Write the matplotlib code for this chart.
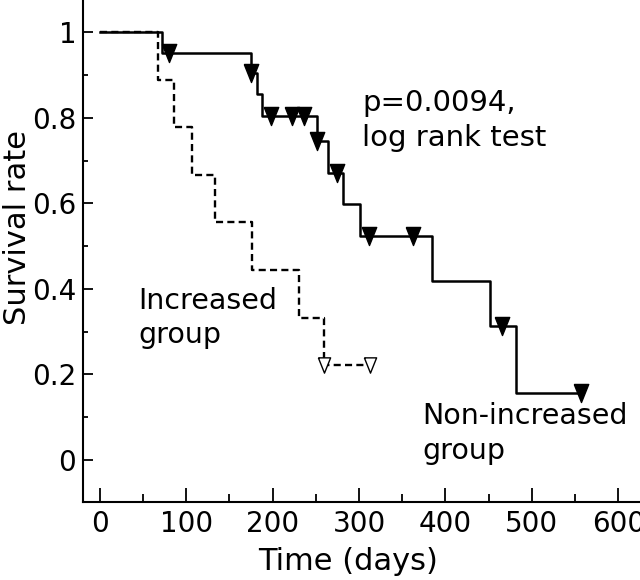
import numpy as np
import matplotlib
matplotlib.use("Agg")
import matplotlib.pyplot as plt

# Kaplan-Meier curves (step starts + end point)
non_inc_days = [0, 72, 175, 182, 188, 251, 264, 282, 301, 384, 451, 482, 557]
non_inc_surv = [1.0, 0.952, 0.905, 0.855, 0.805, 0.745, 0.672, 0.598, 0.523,
                0.418, 0.314, 0.157, 0.157]
non_inc_censored = [80, 175, 198, 223, 236, 251, 274, 311, 362, 465, 557]

inc_days = [0, 67, 86, 107, 133, 176, 231, 260, 313]
inc_surv = [1.0, 0.889, 0.778, 0.667, 0.556, 0.444, 0.333, 0.222, 0.222]
inc_censored = [260, 313]

x_ticks = [0, 100, 200, 300, 400, 500, 600]
y_ticks = [0, 0.2, 0.4, 0.6, 0.8, 1.0]
y_tick_labels = ["0", "0.2", "0.4", "0.6", "0.8", "1"]


def surv_at(days, surv, t):
    i = np.searchsorted(days, t, side="right") - 1
    return np.asarray(surv)[i]


# tall down-pointing triangle
tri = [(-0.8, 1.0), (0.8, 1.0), (0.0, -1.0), (-0.8, 1.0)]

plt.rcParams["font.family"] = ["DejaVu Sans"]
fig = plt.figure(figsize=(6.4, 5.8), dpi=100)
ax = fig.add_axes([0.13, 0.135, 0.87, 0.865])

ax.step(non_inc_days, non_inc_surv, where="post", color="black", lw=1.8)
ax.step(inc_days, inc_surv, where="post", color="black", lw=1.7,
        linestyle=(0, (3, 1.8)))

ax.plot(non_inc_censored, surv_at(non_inc_days, non_inc_surv, non_inc_censored),
        linestyle="none", marker=tri, markersize=13, color="black", zorder=3)
ax.plot(inc_censored, surv_at(inc_days, inc_surv, inc_censored),
        linestyle="none", marker=tri, markersize=11, markerfacecolor="white",
        markeredgecolor="black", markeredgewidth=1.0, zorder=3)

ax.text(304, 0.867, "p=0.0094,\nlog rank test", ha="left", va="top",
        fontsize=21, linespacing=1.3)
ax.text(45, 0.405, "Increased\ngroup", ha="left", va="top",
        fontsize=20.5, linespacing=1.3)
ax.text(373, 0.135, "Non-increased\ngroup", ha="left", va="top",
        fontsize=20.5, linespacing=1.3)

ax.set_xlim(-19, 625)
ax.set_ylim(-0.098, 1.076)
ax.set_xticks(x_ticks)
ax.set_xticks(np.arange(50, 601, 100), minor=True)
ax.set_yticks(y_ticks)
ax.set_yticklabels(y_tick_labels)
ax.set_yticks(np.arange(0.1, 1.0, 0.2), minor=True)

for s in ["top", "right"]:
    ax.spines[s].set_visible(False)
for s in ["left", "bottom"]:
    ax.spines[s].set_linewidth(1.5)

ax.tick_params(axis="x", which="major", direction="in", length=10, width=1.3,
               labelsize=20, pad=6)
ax.tick_params(axis="x", which="minor", direction="in", length=6, width=1.3)
ax.tick_params(axis="y", which="major", direction="in", length=7, width=1.3,
               labelsize=20, pad=5)
ax.tick_params(axis="y", which="minor", direction="in", length=3.6, width=1.3)

ax.set_xlabel("Time (days)", fontsize=22)
ax.set_ylabel("Survival rate", fontsize=22)
ax.xaxis.set_label_coords(0.476, -0.09)
ax.yaxis.set_label_coords(-0.092, 0.546)

fig.savefig("out.png", dpi=100)
